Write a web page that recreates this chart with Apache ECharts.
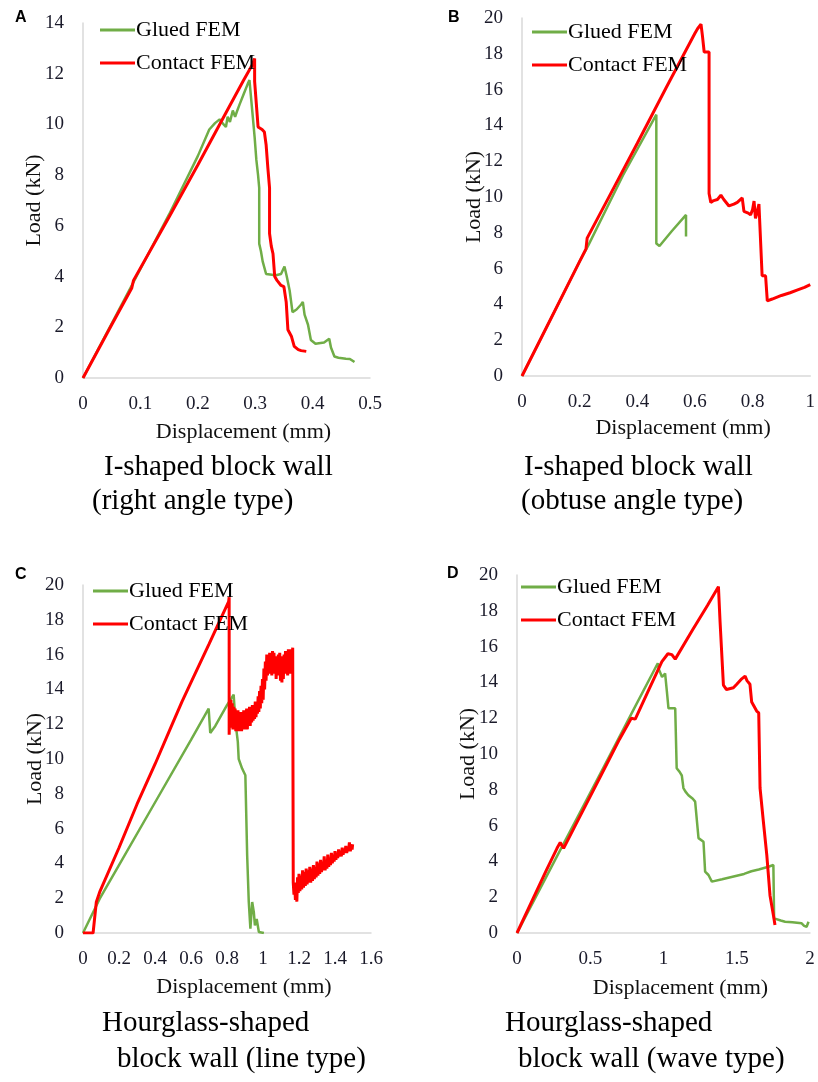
<!DOCTYPE html>
<html>
<head>
<meta charset="utf-8">
<script src="https://cdn.jsdelivr.net/npm/echarts@6/dist/echarts.min.js"></script>
<style>
html,body{margin:0;padding:0;background:#fff;}
#chart{width:818px;height:1082px;}
</style>
</head>
<body>
<div id="chart"></div>
<script>
// ---------- data (displacement mm, load kN) ----------
const seriesNames = ['Glued FEM', 'Contact FEM'];
const panelLetters = ['A', 'B', 'C', 'D'];
const captionLines = [
  ['I-shaped block wall', '(right angle type)'],
  ['I-shaped block wall', '(obtuse angle type)'],
  ['Hourglass-shaped', 'block wall (line type)'],
  ['Hourglass-shaped', 'block wall (wave type)']
];
const xTitle = 'Displacement (mm)';
const yTitle = 'Load (kN)';
// axis ranges [min, max, interval]
const xRanges = [[0, 0.5, 0.1], [0, 1, 0.2], [0, 1.6, 0.2], [0, 2, 0.5]];
const yRanges = [[0, 14, 2], [0, 20, 2], [0, 20, 2], [0, 20, 2]];

const gluedA = [[0,0],[0.05,2.15],[0.1,4.3],[0.15,6.45],[0.2,8.75],[0.22,9.8],[0.23,10.05],[0.238,10.2],[0.245,10.0],[0.249,9.9],[0.252,10.3],[0.256,10.1],[0.261,10.55],[0.265,10.3],[0.268,10.5],[0.273,10.8],[0.28,11.2],[0.287,11.6],[0.29,11.75],[0.293,11.0],[0.297,10.0],[0.299,9.5],[0.302,8.6],[0.305,8.0],[0.307,7.5],[0.307,5.3],[0.31,5.0],[0.313,4.6],[0.319,4.1],[0.336,4.05],[0.345,4.1],[0.351,4.4],[0.355,4.0],[0.36,3.45],[0.365,2.6],[0.372,2.7],[0.38,2.9],[0.383,3.0],[0.386,2.5],[0.392,2.1],[0.397,1.5],[0.405,1.35],[0.42,1.4],[0.429,1.55],[0.432,1.2],[0.438,0.85],[0.445,0.8],[0.458,0.76],[0.465,0.75],[0.473,0.63]];
const contactA = [[0,0],[0.05,2.1],[0.085,3.55],[0.088,3.85],[0.15,6.35],[0.2,8.4],[0.25,10.5],[0.28,11.75],[0.295,12.35],[0.299,12.6],[0.299,11.7],[0.302,10.8],[0.305,9.9],[0.312,9.8],[0.316,9.7],[0.319,9.2],[0.322,8.3],[0.325,7.5],[0.325,5.7],[0.328,5.2],[0.331,4.9],[0.334,4.0],[0.338,3.85],[0.345,3.65],[0.35,3.6],[0.354,3.0],[0.357,1.9],[0.363,1.65],[0.368,1.25],[0.375,1.12],[0.38,1.08],[0.389,1.05]];

const gluedB = [[0,0],[0.1,3.2],[0.2,6.4],[0.23,7.3],[0.35,11.2],[0.466,14.6],[0.466,7.4],[0.477,7.26],[0.52,8.1],[0.569,9.0],[0.569,7.8]];
const contactB = [[0,0],[0.1,3.2],[0.2,6.4],[0.222,7.1],[0.226,7.7],[0.3,9.95],[0.4,13.0],[0.5,16.1],[0.6,19.15],[0.609,19.4],[0.615,19.3],[0.621,19.65],[0.626,19.0],[0.632,18.1],[0.649,18.1],[0.649,10.2],[0.655,9.7],[0.665,9.8],[0.678,9.86],[0.69,10.1],[0.7,9.86],[0.718,9.5],[0.735,9.6],[0.747,9.7],[0.764,9.95],[0.77,9.2],[0.785,9.1],[0.793,9.0],[0.8,9.3],[0.805,9.77],[0.81,8.8],[0.815,9.1],[0.822,9.6],[0.828,9.5],[0.833,5.6],[0.845,5.6],[0.851,4.2],[0.868,4.3],[0.9,4.5],[0.93,4.65],[0.954,4.8],[0.98,4.95],[1.0,5.1]];

const gluedC = [[0,0],[0.093,1.97],[0.2,3.9],[0.4,7.5],[0.6,11.1],[0.698,12.9],[0.707,11.5],[0.735,11.9],[0.8,13.1],[0.837,13.7],[0.847,12.1],[0.86,11.0],[0.865,10.0],[0.884,9.45],[0.902,9.07],[0.912,4.47],[0.921,1.78],[0.93,0.25],[0.94,1.78],[0.949,1.2],[0.955,0.44],[0.965,0.8],[0.977,0.06],[1.005,0]];
const contactC = [[0,0],[0.056,0],[0.074,1.78],[0.093,2.36],[0.2,4.9],[0.3,7.4],[0.4,9.7],[0.5,12.1],[0.55,13.3],[0.6,14.4],[0.7,16.6],[0.809,19.04],[0.812,19.3],[0.812,11.4],
[0.815,13.0],[0.818,11.8],[0.822,13.4],[0.826,11.9],[0.829,13.2],[0.833,11.7],[0.837,13.0],[0.841,11.8],[0.845,12.9],[0.849,11.6],[0.853,12.7],[0.857,11.7],[0.861,12.8],[0.865,11.6],[0.869,12.6],[0.873,11.7],[0.877,12.7],[0.881,11.6],[0.885,12.6],[0.889,11.8],[0.893,12.8],[0.897,11.7],[0.901,12.7],[0.905,11.9],[0.909,12.9],[0.913,11.7],[0.917,12.8],[0.921,12.0],[0.925,13.0],[0.929,11.9],[0.933,12.9],[0.937,12.1],[0.941,13.1],[0.945,12.2],[0.949,13.0],[0.953,12.3],[0.957,13.3],[0.961,12.4],[0.965,13.2],[0.969,12.6],[0.973,13.6],[0.977,12.7],[0.981,13.9],[0.985,12.9],[0.989,14.2],[0.993,13.2],[0.997,14.6],[1.001,13.4],[1.005,15.2],[1.009,14.0],[1.013,15.6],[1.017,14.5],[1.021,16.0],[1.025,14.8],[1.029,16.0],[1.033,14.9],[1.037,16.1],[1.041,15.0],[1.045,16.0],[1.049,14.8],[1.053,16.2],[1.057,15.0],[1.061,16.1],[1.065,14.9],[1.069,15.9],[1.073,14.6],[1.077,15.8],[1.081,14.8],[1.085,16.0],[1.089,14.9],[1.093,16.1],[1.097,14.5],[1.101,15.7],[1.105,14.4],[1.109,15.9],[1.113,14.6],[1.117,16.0],[1.121,14.9],[1.125,16.2],[1.129,15.0],[1.133,16.1],[1.137,14.8],[1.141,16.3],[1.145,15.1],[1.149,16.2],[1.153,14.9],[1.157,16.3],[1.161,15.0],[1.165,16.4],[1.168,16.45],[1.168,2.9],
[1.172,2.2],[1.176,2.8],[1.18,1.9],[1.184,2.9],[1.188,1.8],[1.192,3.2],[1.196,2.3],[1.2,3.4],[1.205,2.4],[1.21,3.3],[1.215,2.5],[1.22,3.6],[1.225,2.6],[1.23,3.5],[1.235,2.7],[1.24,3.7],[1.245,2.8],[1.25,3.6],[1.255,2.9],[1.26,3.8],[1.265,2.9],[1.27,3.7],[1.275,3.0],[1.28,3.9],[1.285,3.1],[1.29,3.8],[1.295,3.2],[1.3,4.1],[1.305,3.3],[1.31,4.0],[1.315,3.4],[1.32,4.2],[1.325,3.5],[1.33,4.1],[1.335,3.6],[1.34,4.4],[1.345,3.6],[1.35,4.2],[1.355,3.7],[1.36,4.5],[1.365,3.8],[1.37,4.3],[1.375,3.9],[1.38,4.6],[1.385,4.0],[1.39,4.5],[1.395,4.1],[1.4,4.7],[1.405,4.2],[1.41,4.6],[1.415,4.3],[1.42,4.8],[1.425,4.4],[1.43,4.7],[1.435,4.4],[1.44,4.9],[1.445,4.5],[1.45,4.8],[1.455,4.6],[1.46,5.0],[1.465,4.6],[1.47,4.9],[1.475,4.7],[1.48,5.2],[1.485,4.7],[1.49,5.0],[1.495,4.8],[1.498,5.1]];

const gluedD = [[0,0],[0.1,1.57],[0.261,4.1],[0.4,6.27],[0.6,9.4],[0.8,12.55],[0.961,15.07],[0.97,14.7],[0.99,14.3],[1.011,14.5],[1.023,13.5],[1.034,12.55],[1.08,12.55],[1.09,9.2],[1.11,9.0],[1.125,8.8],[1.136,8.1],[1.15,7.9],[1.17,7.7],[1.2,7.5],[1.216,7.34],[1.239,5.3],[1.273,5.1],[1.284,3.43],[1.307,3.24],[1.33,2.87],[1.4,3.0],[1.5,3.2],[1.55,3.3],[1.6,3.45],[1.65,3.55],[1.716,3.7],[1.75,3.8],[1.755,0.82],[1.8,0.7],[1.83,0.63],[1.88,0.6],[1.943,0.54],[1.96,0.4],[1.977,0.35],[1.99,0.63]];
const contactD = [[0,0],[0.1,1.75],[0.2,3.5],[0.273,4.73],[0.295,5.05],[0.318,4.73],[0.4,6.04],[0.5,7.63],[0.6,9.23],[0.7,10.83],[0.78,12.0],[0.807,11.95],[0.9,13.6],[0.989,15.16],[1.03,15.6],[1.057,15.55],[1.08,15.3],[1.2,16.95],[1.3,18.3],[1.375,19.35],[1.386,17.4],[1.409,13.85],[1.43,13.6],[1.443,13.5],[1.477,13.7],[1.5,13.9],[1.534,14.2],[1.557,14.35],[1.57,14.1],[1.58,14.2],[1.59,13.9],[1.602,12.9],[1.636,12.4],[1.65,12.3],[1.659,8.1],[1.682,6.2],[1.705,4.36],[1.727,2.1],[1.75,1.0],[1.761,0.45]];

const gluedAll = [gluedA, gluedB, gluedC, gluedD];
const contactAll = [contactA, contactB, contactC, contactD];

// ---------- layout ----------
const GREEN = '#70ad47', RED = '#ff0000';
const SERIF = '"Liberation Serif","Times New Roman",serif';
const grids = [
  {left: 83, top: 23, width: 287, height: 355},
  {left: 522, top: 18, width: 291, height: 358},
  {left: 83, top: 585, width: 288, height: 348},
  {left: 517, top: 575, width: 293, height: 358}
];
const yNameGaps = [38, 37, 37, 38];
const xNameGaps = [43, 41, 43, 44];
const legendPos = [{left: 100, top: 18}, {left: 532, top: 20}, {left: 93, top: 579}, {left: 521, top: 575}];
const letterPos = [{left: 15, top: 10}, {left: 448, top: 10}, {left: 15, top: 567}, {left: 447, top: 566}];
const captionPos = [
  [{left: 104, top: 453}, {left: 92, top: 487}],
  [{left: 524, top: 453}, {left: 521, top: 487}],
  [{left: 102, top: 1009}, {left: 117, top: 1045}],
  [{left: 505, top: 1009}, {left: 518, top: 1045}]
];

const xAxes = [], yAxes = [], series = [], legends = [], titles = [];
for (let i = 0; i < 4; i++) {
  xAxes.push({
    type: 'value', gridIndex: i,
    min: xRanges[i][0], max: xRanges[i][1], interval: xRanges[i][2],
    name: xTitle, nameLocation: 'middle', nameGap: xNameGaps[i], nameMoveOverlap: false,
    nameTextStyle: {fontFamily: SERIF, fontSize: 22, color: '#111', padding: [0, 0, 0, 34]},
    axisLine: {show: true, lineStyle: {color: '#d9d9d9', width: 1.5}},
    axisTick: {show: false}, splitLine: {show: false},
    axisLabel: {fontFamily: SERIF, fontSize: 19, color: '#1a1a2a', margin: 17}
  });
  yAxes.push({
    type: 'value', gridIndex: i,
    min: yRanges[i][0], max: yRanges[i][1], interval: yRanges[i][2],
    name: yTitle, nameLocation: 'middle', nameGap: yNameGaps[i], nameRotate: 90, nameMoveOverlap: false,
    nameTextStyle: {fontFamily: SERIF, fontSize: 22, color: '#111'},
    axisLine: {show: true, lineStyle: {color: '#d9d9d9', width: 1.5}},
    axisTick: {show: false}, splitLine: {show: false},
    axisLabel: {fontFamily: SERIF, fontSize: 19, color: '#1a1a2a', margin: 19}
  });
  series.push({
    name: seriesNames[0], type: 'line', xAxisIndex: i, yAxisIndex: i,
    data: gluedAll[i], showSymbol: false, symbol: 'none',
    lineStyle: {color: GREEN, width: 2.5}, itemStyle: {color: GREEN}, z: 2
  });
  series.push({
    name: seriesNames[1], type: 'line', xAxisIndex: i, yAxisIndex: i,
    data: contactAll[i], showSymbol: false, symbol: 'none',
    lineStyle: {color: RED, width: 3}, itemStyle: {color: RED}, z: 3
  });
  legends.push({
    data: seriesNames, orient: 'vertical',
    left: legendPos[i].left, top: legendPos[i].top, padding: 0,
    icon: 'rect', itemWidth: 35, itemHeight: 3, itemGap: 9,
    textStyle: {fontFamily: SERIF, fontSize: 22, color: '#000', lineHeight: 24, padding: [0, 0, 0, -4]}
  });
  titles.push({
    text: panelLetters[i], left: letterPos[i].left, top: letterPos[i].top, padding: 0,
    textStyle: {fontFamily: '"Liberation Sans",Arial,sans-serif', fontWeight: 'bold', fontSize: 16, color: '#000'}
  });
  for (let k = 0; k < 2; k++) {
    titles.push({
      text: captionLines[i][k], left: captionPos[i][k].left, top: captionPos[i][k].top, padding: 0,
      textStyle: {fontFamily: SERIF, fontWeight: 'normal', fontSize: 29, color: '#000'}
    });
  }
}

const chart = echarts.init(document.getElementById('chart'), null, {renderer: 'canvas'});
chart.setOption({
  backgroundColor: '#fff',
  animation: false,
  title: titles,
  legend: legends,
  grid: grids,
  xAxis: xAxes,
  yAxis: yAxes,
  series: series
});
</script>
</body>
</html>
